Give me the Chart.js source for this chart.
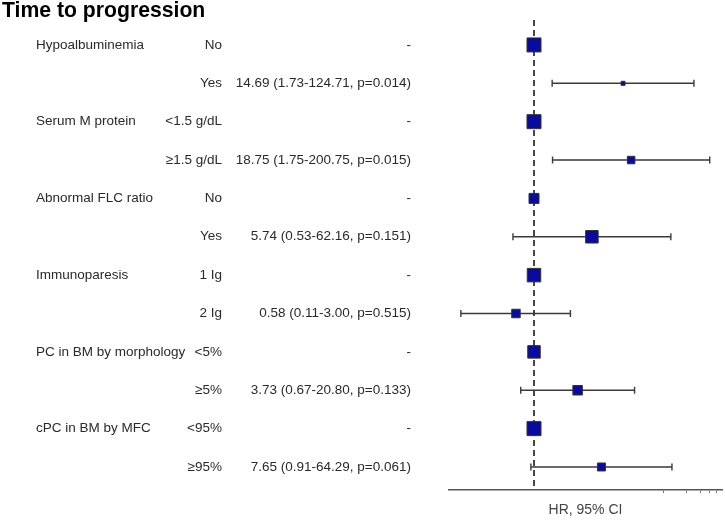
<!DOCTYPE html>
<html>
<head>
<meta charset="utf-8">
<script src="https://cdn.jsdelivr.net/npm/chart.js@4.4.1/dist/chart.umd.min.js"></script>
<style>
  html, body { margin: 0; padding: 0; background: #fff; overflow: hidden; }
  #forest { display: block; }
</style>
</head>
<body>
<canvas id="forest" width="725" height="525" style="width:725px;height:525px"></canvas>
<script>
'use strict';

// Rows of the forest plot, top to bottom
const variables = ['Hypoalbuminemia', '', 'Serum M protein', '', 'Abnormal FLC ratio', '',
                   'Immunoparesis', '', 'PC in BM by morphology', '', 'cPC in BM by MFC', ''];
const levels = ['No', 'Yes', '<1.5 g/dL', '\u22651.5 g/dL', 'No', 'Yes',
                '1 Ig', '2 Ig', '<5%', '\u22655%', '<95%', '\u226595%'];
const hazardRatio = [1, 14.69, 1, 18.75, 1, 5.74, 1, 0.58, 1, 3.73, 1, 7.65];
const ciLow  = [null, 1.73, null, 1.75, null, 0.53, null, 0.11, null, 0.67, null, 0.91];
const ciHigh = [null, 124.71, null, 200.75, null, 62.16, null, 3.00, null, 20.80, null, 64.29];
const pValue = [null, 0.014, null, 0.015, null, 0.151, null, 0.515, null, 0.133, null, 0.061];
const axisTicks = [50, 100, 150, 200, 250];

// box side in px for each row (style only)
const boxSide = [14, 4, 14, 7.5, 10, 12.5, 13.5, 8.5, 12.5, 9.5, 14, 8];

const textColor = '#2a2a2a';
const fontFamily = '"Liberation Sans", Arial, sans-serif';

function hrText(i) {
  if (ciLow[i] === null) return '-';
  return hazardRatio[i].toFixed(2) + ' (' + ciLow[i].toFixed(2) + '-' + ciHigh[i].toFixed(2) +
    ', p=' + pValue[i].toFixed(3) + ')';
}

// Draws the title, the three text columns and the CI whiskers
const tablePlugin = {
  id: 'forestTable',
  beforeDatasetsDraw(chart) {
    const ctx = chart.ctx;
    const x = chart.scales.x, y = chart.scales.y;
    ctx.save();
    ctx.strokeStyle = '#3a3a3a';
    ctx.lineWidth = 1.4;
    for (let i = 0; i < hazardRatio.length; i++) {
      if (ciLow[i] === null) continue;
      const py = y.getPixelForValue(i);
      const x1 = x.getPixelForValue(ciLow[i]);
      const x2 = x.getPixelForValue(ciHigh[i]);
      ctx.beginPath();
      ctx.moveTo(x1, py); ctx.lineTo(x2, py);
      ctx.moveTo(x1, py - 3.5); ctx.lineTo(x1, py + 3.5);
      ctx.moveTo(x2, py - 3.5); ctx.lineTo(x2, py + 3.5);
      ctx.stroke();
    }
    ctx.restore();
  },
  afterDraw(chart) {
    const ctx = chart.ctx;
    const y = chart.scales.y;
    ctx.save();
    ctx.fillStyle = '#000';
    ctx.font = 'bold 21.2px ' + fontFamily;
    ctx.textBaseline = 'alphabetic';
    ctx.textAlign = 'left';
    ctx.fillText('Time to progression', 2, 17);

    ctx.fillStyle = textColor;
    ctx.font = '13.5px ' + fontFamily;
    ctx.textBaseline = 'middle';
    for (let i = 0; i < levels.length; i++) {
      const py = y.getPixelForValue(i);
      ctx.textAlign = 'left';
      ctx.fillText(variables[i], 36, py);
      ctx.textAlign = 'right';
      ctx.fillText(levels[i], 222, py);
      ctx.fillText(hrText(i), 411, py);
    }
    ctx.restore();
  }
};

const ctx = document.getElementById('forest');
new Chart(ctx, {
  type: 'scatter',
  data: {
    datasets: [{
      label: 'HR',
      data: hazardRatio.map(function (v, i) { return { x: v, y: i }; }),
      pointStyle: 'rect',
      pointRadius: boxSide.map(function (s) { return s / Math.SQRT2; }),
      pointHoverRadius: boxSide.map(function (s) { return s / Math.SQRT2; }),
      backgroundColor: '#0a0a9e',
      borderColor: '#333',
      borderWidth: 1,
      order: 1
    }, {
      label: 'ref',
      data: [{ x: 1, y: -0.65 }, { x: 1, y: 11.6 }],
      showLine: true,
      pointRadius: 0,
      borderColor: '#333',
      borderWidth: 1.8,
      borderDash: [6, 4],
      order: 2
    }]
  },
  options: {
    responsive: false,
    animation: false,
    devicePixelRatio: 1,
    layout: { autoPadding: false, padding: { left: 449, right: 3, top: 20, bottom: 0 } },
    plugins: {
      legend: { display: false },
      tooltip: { enabled: false }
    },
    scales: {
      x: {
        type: 'logarithmic',
        min: 0.0769,
        max: 291,
        afterBuildTicks: function (scale) {
          scale.ticks = axisTicks.map(function (v) { return { value: v }; });
        },
        afterFit: function (scale) { scale.height = 35; },
        border: { display: true, color: '#555', width: 1.5 },
        grid: { drawOnChartArea: false, drawTicks: true, tickLength: 3, color: '#777' },
        ticks: { display: false },
        title: {
          display: true,
          text: 'HR, 95% CI',
          color: '#444',
          font: { family: fontFamily, size: 14 },
          padding: { top: 0, bottom: 6 }
        }
      },
      y: {
        type: 'linear',
        display: false,
        reverse: true,
        min: -0.65,
        max: 11.6
      }
    }
  },
  plugins: [tablePlugin]
});
</script>
</body>
</html>
